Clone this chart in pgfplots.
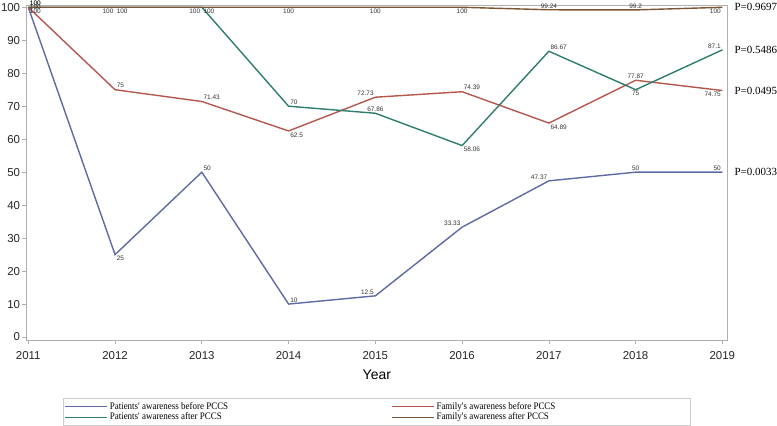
\documentclass[border=0pt]{standalone}
\usepackage{fontspec}
\setmainfont{Liberation Serif}
\newfontfamily\sasfont{Liberation Sans}
\newfontfamily\legfont[FakeStretch=0.9]{Liberation Serif}
\usepackage{pgfplots}
\pgfplotsset{compat=1.18}

\definecolor{pbefore}{HTML}{5D6AA5}
\definecolor{fbefore}{HTML}{B5574D}
\definecolor{pafter}{HTML}{2E7D6D}
\definecolor{fafter}{HTML}{7C5634}
\definecolor{framegray}{HTML}{B0B0B0}

% short names for the label anchors (the table splits on spaces)
\tikzset{
  anc/n/.style={anchor=north}, anc/s/.style={anchor=south},
  anc/w/.style={anchor=west}, anc/e/.style={anchor=east},
  anc/nw/.style={anchor=north west}, anc/ne/.style={anchor=north east},
  anc/sw/.style={anchor=south west}, anc/se/.style={anchor=south east},
  plabel/.style={anchor=west, xshift=7bp, inner sep=0pt, font=\fontsize{11}{12}\selectfont},
}

\begin{document}
\begin{tikzpicture}
\begin{axis}[
  scale only axis,
  width=701bp,
  height=335bp,
  xmin=2010.977, xmax=2019.057,
  ymin=-1, ymax=100.6,
  xtick={2011,...,2019},
  ytick={0,10,...,100},
  /pgf/number format/1000 sep={},
  /pgf/number format/assume math mode=true,
  tick label style={font=\sasfont\fontsize{11.5}{13}\selectfont, text=black!85},
  x tick label style={yshift=-4bp},
  y tick label style={inner sep=1bp, xshift=-1bp},
  xtick pos=bottom, ytick pos=left,
  tick align=outside,
  major tick length=4bp,
  tick style={framegray, line width=0.6pt},
  axis line style={framegray, line width=0.7pt},
  xlabel={Year},
  xlabel style={font=\sasfont\fontsize{14}{16}\selectfont, yshift=-3bp},
  clip=false,
  legend columns=2,
  legend style={at={(0.5,-0.172)}, anchor=north, draw=black!20,
    font=\legfont\fontsize{10}{10}\selectfont, row sep=-2bp,
    inner sep=2bp, cells={anchor=west}},
  legend image code/.code={\draw[#1, line width=0.7pt] (0bp,0bp) -- (42bp,0bp);},
  nodes near coords,
  point meta=explicit symbolic,
  visualization depends on={value \thisrow{anc}\as\anc},
  every node near coord/.append style={font=\sasfont\fontsize{6.5}{7}\selectfont,
    text=black!80, inner sep=1bp, anc/\anc},
  every axis plot/.append style={line width=1.4pt, mark=none},
]

\addplot[pbefore] table[x=x, y=y, meta=lab] {
x y lab anc
2011 100 100 w
2012 25 25 nw
2013 50 50 sw
2014 10 10 sw
2015 12.5 12.5 se
2016 33.33 33.33 se
2017 47.37 47.37 se
2018 50 50 s
2019 50 50 se
};
\addlegendentry{\makebox[280bp][l]{Patients' awareness before PCCS}}

\addplot[fbefore] table[x=x, y=y, meta=lab] {
x y lab anc
2011 100 100 nw
2012 75 75 sw
2013 71.43 71.43 sw
2014 62.5 62.5 nw
2015 72.73 72.73 se
2016 74.39 74.39 sw
2017 64.89 64.89 nw
2018 77.87 77.87 s
2019 74.75 74.75 ne
};
\addlegendentry{\makebox[250bp][l]{Family's awareness before PCCS}}

\addplot[pafter] table[x=x, y=y, meta=lab] {
x y lab anc
2011 100 100 sw
2012 100 100 ne
2013 100 100 ne
2014 70 70 sw
2015 67.86 67.86 s
2016 58.06 58.06 nw
2017 86.67 86.67 sw
2018 75 75 n
2019 87.1 87.1 se
};
\addlegendentry{Patients' awareness after PCCS}

\addplot[fafter] table[x=x, y=y, meta=lab] {
x y lab anc
2011 100 100 sw
2012 100 100 nw
2013 100 100 nw
2014 100 100 n
2015 100 100 n
2016 100 100 n
2017 99.24 99.24 s
2018 99.2 99.2 s
2019 100 100 ne
};
\addlegendentry{Family's awareness after PCCS}

\node[plabel] at (axis cs:2019.057,100) {P=0.9697};
\node[plabel] at (axis cs:2019.057,87.1) {P=0.5486};
\node[plabel] at (axis cs:2019.057,74.75) {P=0.0495};
\node[plabel] at (axis cs:2019.057,50) {P=0.0033};
\end{axis}
\end{tikzpicture}
\end{document}
